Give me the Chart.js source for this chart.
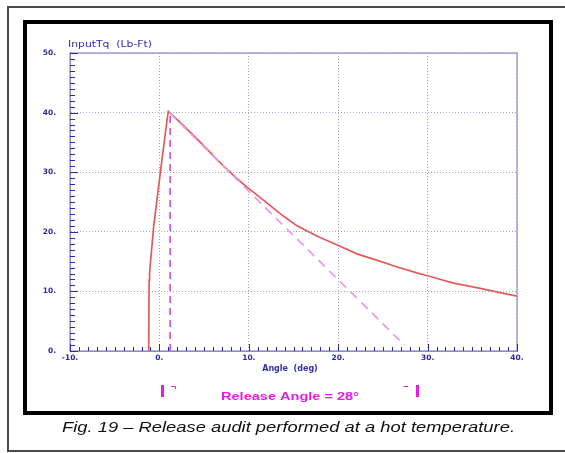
<!DOCTYPE html>
<html>
<head>
<meta charset="utf-8">
<script src="https://cdn.jsdelivr.net/npm/chart.js@4.4.1/dist/chart.umd.min.js"></script>
<style>
  html, body { margin: 0; padding: 0; background: #fff; }
  #c { display: block; }
</style>
</head>
<body>
<canvas id="c" width="565" height="453"></canvas>
<script>
// ── DATA ─────────────────────────────────────
const curveAngle  = [-1.2, -1.15, -1.1, -0.64, 0.1, 0.86, 1.0, 2.7, 4.2, 5.7, 7.2, 8.7, 9.8, 10.9, 12.4, 13.9, 15.4, 17.6, 19.9, 22.1, 24.4, 26.6, 28.8, 30.3, 32.9, 35.9, 38.1, 40];
const curveTorque = [0, 11.9, 13.1, 20.9, 29.9, 38.8, 40.2, 37.8, 35.6, 33.3, 31.0, 28.9, 27.5, 26.2, 24.4, 22.6, 21.0, 19.3, 17.8, 16.3, 15.2, 14.1, 13.1, 12.5, 11.4, 10.5, 9.8, 9.2];

const tangentAngle  = [1.1, 27.4];
const tangentTorque = [40, 1];

const peakAngle  = [1.2, 1.2];
const peakTorque = [0, 40];

const xTicks = [-10, 0, 10, 20, 30, 40];
const yTicks = [0, 10, 20, 30, 40, 50];

const yTitle = "InputTq  (Lb-Ft)";
const xTitle = "Angle  (deg)";
const releaseText = "Release Angle = 28\u00B0";
const caption = "Fig. 19 \u2013 Release audit performed at a hot temperature.";

// ── HELPERS ──────────────────────────────────
function toPoints(xs, ys) {
  return xs.map((x, i) => ({ x: x, y: ys[i] }));
}

function fitText(ctx, text, x, y, width) {
  const w = ctx.measureText(text).width;
  ctx.save();
  ctx.translate(x, y);
  ctx.scale(width / w, 1);
  ctx.fillText(text, 0, 0);
  ctx.restore();
}

const AXIS_BLUE = "#8a8ac8";
const TICK_BLUE = "#2b2ba8";
const LABEL_BLUE = "#3030b0";
const MAGENTA = "#e020e0";

// ── PLUGIN: frames, box, minor ticks, texts ──
const decor = {
  id: "decor",
  beforeDraw(chart) {
    const ctx = chart.ctx;
    ctx.save();
    ctx.fillStyle = "#fff";
    ctx.fillRect(0, 0, chart.width, chart.height);

    // outer thin frame (open on the right)
    ctx.strokeStyle = "#4a4a4a";
    ctx.lineWidth = 2;
    ctx.beginPath();
    ctx.moveTo(chart.width, 7);
    ctx.lineTo(8, 7);
    ctx.lineTo(8, 451);
    ctx.lineTo(chart.width, 451);
    ctx.stroke();

    // inner thick frame
    ctx.strokeStyle = "#000";
    ctx.lineWidth = 4;
    ctx.strokeRect(25, 22, 526, 391);
    ctx.restore();
  },
  afterDatasetsDraw(chart) {
    const ctx = chart.ctx;
    const a = chart.chartArea;
    const xs = chart.scales.x;
    const ys = chart.scales.y;
    ctx.save();

    // plot box
    ctx.strokeStyle = AXIS_BLUE;
    ctx.lineWidth = 1.2;
    ctx.strokeRect(a.left, a.top, a.right - a.left, a.bottom - a.top);

    // inward ticks, one per unit
    ctx.strokeStyle = TICK_BLUE;
    ctx.lineWidth = 1;
    ctx.beginPath();
    for (let v = xs.min; v <= xs.max; v++) {
      const px = Math.round(xs.getPixelForValue(v)) + 0.5;
      const len = v % 10 === 0 ? 7 : 4;
      ctx.moveTo(px, a.bottom);
      ctx.lineTo(px, a.bottom - len);
    }
    for (let v = ys.min; v <= ys.max; v++) {
      const py = Math.round(ys.getPixelForValue(v)) + 0.5;
      const len = v % 10 === 0 ? 8 : 5;
      ctx.moveTo(a.left, py);
      ctx.lineTo(a.left + len, py);
    }
    ctx.stroke();

    // axis titles
    ctx.fillStyle = LABEL_BLUE;
    ctx.textBaseline = "middle";
    ctx.font = "9px 'DejaVu Sans'";
    ctx.textAlign = "left";
    fitText(ctx, yTitle, a.left - 2, 45, 84);
    ctx.font = "bold 8px 'DejaVu Sans'";
    ctx.textAlign = "center";
    ctx.fillText(xTitle, 290, 369);

    // cursor markers + release angle
    ctx.fillStyle = MAGENTA;
    ctx.fillRect(161, 385, 3, 12);
    ctx.fillRect(416, 385, 3, 12);
    ctx.strokeStyle = MAGENTA;
    ctx.lineWidth = 1;
    ctx.beginPath();
    ctx.moveTo(171, 386.5); ctx.lineTo(175.5, 386.5); ctx.lineTo(175.5, 389);
    ctx.moveTo(408, 386.5); ctx.lineTo(403.5, 386.5);
    ctx.stroke();

    ctx.font = "bold 11px 'Liberation Sans'";
    ctx.textAlign = "left";
    fitText(ctx, releaseText, 221, 397, 138);

    // caption
    ctx.fillStyle = "#111";
    ctx.font = "italic 14px 'Liberation Sans'";
    ctx.textAlign = "left";
    fitText(ctx, caption, 62, 428, 453);
    ctx.restore();
  }
};

// ── CHART ────────────────────────────────────
const tickFont = { family: "'DejaVu Sans'", size: 7.5, weight: "bold" };

new Chart(document.getElementById("c"), {
  type: "line",
  data: {
    datasets: [
      {
        data: toPoints(tangentAngle, tangentTorque),
        borderColor: "#e6a0e6",
        borderWidth: 1.8,
        borderDash: [9, 6],
        pointRadius: 0,
        tension: 0
      },
      {
        data: toPoints(peakAngle, peakTorque),
        borderColor: "#d040c8",
        borderWidth: 1.5,
        borderDash: [7, 5],
        pointRadius: 0,
        tension: 0
      },
      {
        data: toPoints(curveAngle, curveTorque),
        borderColor: "#e25a5a",
        borderWidth: 1.7,
        pointRadius: 0,
        tension: 0
      }
    ]
  },
  options: {
    responsive: false,
    animation: false,
    devicePixelRatio: 1,
    layout: { padding: { top: 53, left: 20, right: 48, bottom: 0 } },
    plugins: {
      legend: { display: false },
      tooltip: { enabled: false }
    },
    scales: {
      x: {
        type: "linear",
        min: xTicks[0],
        max: xTicks[xTicks.length - 1],
        afterBuildTicks: s => { s.ticks = xTicks.map(v => ({ value: v })); },
        afterFit: s => { s.height = 102; },
        grid: { color: "#a4a4d4", drawTicks: false, lineWidth: 1 },
        border: { display: true, color: AXIS_BLUE, width: 1, dash: [1, 2] },
        ticks: {
          padding: 3,
          color: TICK_BLUE,
          font: tickFont,
          maxRotation: 0,
          callback: v => v + "."
        }
      },
      y: {
        type: "linear",
        min: yTicks[0],
        max: yTicks[yTicks.length - 1],
        afterBuildTicks: s => { s.ticks = yTicks.map(v => ({ value: v })); },
        afterFit: s => { s.width = 50; },
        grid: { color: "#a4a4d4", drawTicks: false, lineWidth: 1 },
        border: { display: true, color: AXIS_BLUE, width: 1, dash: [1, 2] },
        ticks: {
          padding: 14,
          color: TICK_BLUE,
          font: tickFont,
          callback: v => v + "."
        }
      }
    }
  },
  plugins: [decor]
});
</script>
</body>
</html>
